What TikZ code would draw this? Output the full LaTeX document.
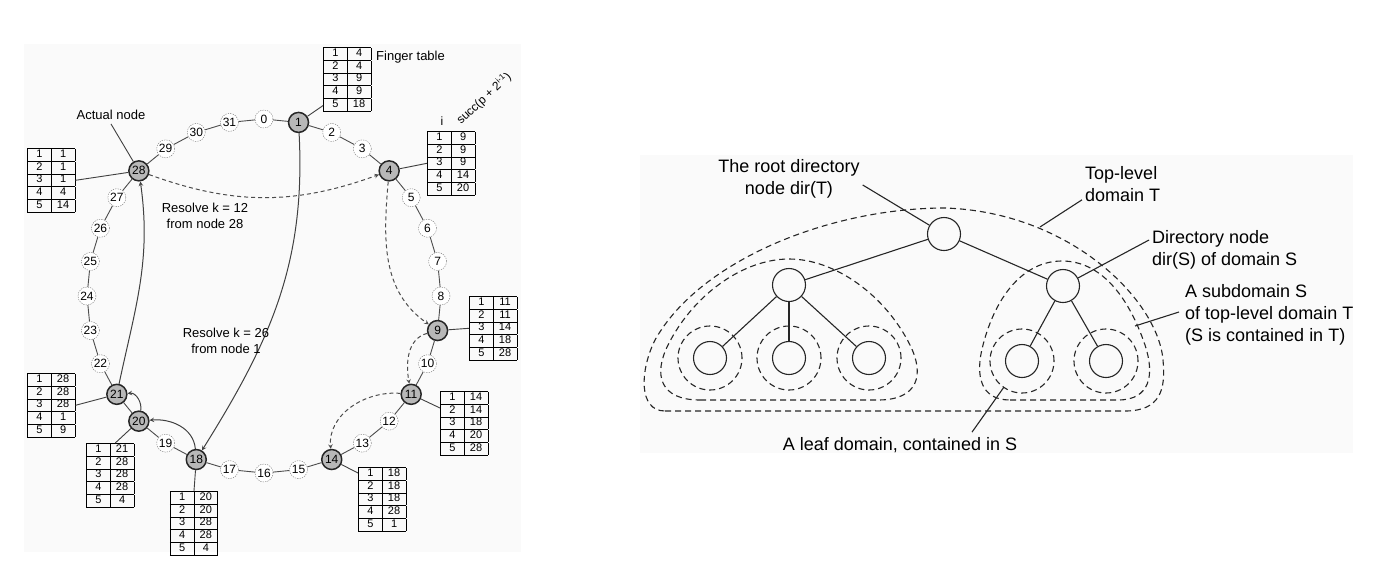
\documentclass[tikz,border=0pt]{standalone}
\usepackage{fontspec}
\setmainfont{Liberation Sans}
\usepackage{array}
\usetikzlibrary{arrows}
\tikzset{
>=stealth, % small filled arrow heads
peer/.style={circle, draw=black!85, line width=1.5pt, fill=black!28, minimum size=20pt, inner sep=0pt, font=\fontsize{12}{12}\selectfont}, % an actual node on the ring
slot/.style={circle, draw=black!55, dash pattern=on 1.3pt off 1.1pt, fill=white, minimum size=18pt, inner sep=0pt, font=\fontsize{12}{12}\selectfont}, % a free identifier
ring/.style={draw=black!70, line width=0.9pt}, % the ring itself
tabline/.style={draw=black!75, line width=0.9pt}, % node to finger table
ftab/.style={inner sep=0pt, font=\fontsize{11}{12}\selectfont}, % finger table
hop/.style={->, draw=black!70, line width=1pt, dash pattern=on 4pt off 3pt}, % lookup of k = 12
jump/.style={->, draw=black!75, line width=1pt}, % lookup of k = 26
note/.style={inner sep=0pt, font=\fontsize{13}{16}\selectfont, align=center},
dnode/.style={circle, draw=black!85, line width=1.1pt, minimum size=33pt, inner sep=0pt}, % directory node
leafdom/.style={circle, draw=black!85, line width=1.1pt, dash pattern=on 6pt off 4pt, minimum size=64pt, inner sep=0pt},
domline/.style={draw=black!85, line width=1.1pt, dash pattern=on 6pt off 4pt},
tree/.style={draw=black!85, line width=1.1pt},
lbl/.style={inner sep=0pt, font=\fontsize{18}{22}\selectfont},
}
\setlength{\arrayrulewidth}{0.7pt}
\newcommand{\ftable}[5]{%
  \setlength{\tabcolsep}{3pt}\renewcommand{\arraystretch}{1}%
  \begin{tabular}{|w{c}{17pt}|w{c}{17pt}|}\hline
  1 & #1\\\hline 2 & #2\\\hline 3 & #3\\\hline 4 & #4\\\hline 5 & #5\\\hline
  \end{tabular}}

\begin{document}
\begin{tikzpicture}[x=1pt, y=-1pt]
\useasboundingbox (0,0) rectangle (1382,574);
\fill[black!2] (24,44) rectangle (521,552);
\fill[black!2] (640,155) rectangle (1353,453);

% the ring
\foreach \k in {0,2,3,5,6,7,8,10,12,13,15,16,17,19,22,23,24,25,26,27,29,30,31}
  \node[slot] (n\k) at ({264+177*cos(90-11.25*\k)},{296-177*sin(90-11.25*\k)}) {\k};
\foreach \k in {1,4,9,11,14,18,20,21,28}
  \node[peer] (n\k) at ({264+177*cos(90-11.25*\k)},{296-177*sin(90-11.25*\k)}) {\k};
\foreach \k in {0,...,31} {
  \pgfmathtruncatemacro\j{mod(\k+1,32)}
  \draw[ring] (n\k) -- (n\j);
}

% finger tables
\node[ftab, anchor=north west] (t1) at (323,47) {\ftable{4}{4}{9}{9}{18}};
\node[ftab, anchor=north west] (t4) at (427,131) {\ftable{9}{9}{9}{14}{20}};
\node[ftab, anchor=north west] (t9) at (469,296) {\ftable{11}{11}{14}{18}{28}};
\node[ftab, anchor=north west] (t11) at (440,391) {\ftable{14}{14}{18}{20}{28}};
\node[ftab, anchor=north west] (t14) at (358,467) {\ftable{18}{18}{18}{28}{1}};
\node[ftab, anchor=north] (t18) at (194,491) {\ftable{20}{20}{28}{28}{4}};
\node[ftab, anchor=north west] (t20) at (86,443) {\ftable{21}{28}{28}{28}{4}};
\node[ftab, anchor=north west] (t21) at (27,373) {\ftable{28}{28}{28}{1}{9}};
\node[ftab, anchor=north west] (t28) at (27,148) {\ftable{1}{1}{1}{4}{14}};

\draw[tabline] (n1) -- ([yshift=6pt]t1.south west);
\draw[tabline] (n4) -- (t4.west);
\draw[tabline] (n9) -- (t9.west);
\draw[tabline] (n11) -- ([yshift=-17pt]t11.north west);
\draw[tabline] (n14) -- ([yshift=-6pt]t14.north west);
\draw[tabline] (n18) -- (t18.north);
\draw[tabline] (n20) -- ([xshift=5pt]t20.north);
\draw[tabline] (n21) -- (t21.east);
\draw[tabline] (n28) -- (t28.east);

\node[note, anchor=west] (ftlabel) at (376,57) {Finger table};
\node[note, font=\fontsize{12}{14}\selectfont] (ilabel) at (442,121) {i};
\node[note, font=\fontsize{12}{14}\selectfont, anchor=base west, rotate=43] (succlabel) at (461,125) {succ(p + 2\textsuperscript{i-1})};
\node[note] (actual) at (111,115) {Actual node};
\draw[tabline] ([yshift=-4pt]actual.south) -- (n28);

% lookups
\draw[hop] (n28) to[out=-20, in=200] (n4);
\draw[hop] (n4) to[out=-95, in=145] (n9);
\draw[hop] (n9) to[out=195, in=100] (n11);
\draw[hop] (n11) to[out=175, in=95] (n14);
\draw[jump] (n1) to[out=-87, in=58] (n18);
\draw[jump] (n21) to[out=78, in=-82] (n28);
\draw[jump] (n20) to[out=80, in=5] (n21);
\draw[jump] (n18) to[out=95, in=5] (n20);

\node[note] (k12) at (205,216) {Resolve k = 12\\from node 28};
\node[note] (k26) at (226,341) {Resolve k = 26\\from node 1};

% domains
\node[dnode] (root) at (944,234) {};
\node[dnode] (dirT) at (789,285) {};
\node[dnode] (dirS) at (1063,286) {};
\node[dnode] (l1) at (710,358) {};
\node[dnode] (l2) at (789,358) {};
\node[dnode] (l3) at (869,358) {};
\node[dnode] (r1) at (1022,361) {};
\node[dnode] (r2) at (1106,361) {};
\foreach \n in {l1,l2,l3,r1,r2}
  \node[leafdom] (d\n) at (\n) {};

\draw[tree] (root) -- (dirT);
\draw[tree] (root) -- (dirS);
\draw[tree] (dirT) -- (l1);
\draw[tree] (dirT) -- (l2);
\draw[tree] (dirT) -- (l3);
\draw[tree] (dirS) -- (r1);
\draw[tree] (dirS) -- (r2);

\draw[domline] (700,400) -- (878,400) .. controls (918,400) and (925,375) .. (910,345)
  .. controls (885,295) and (835,259) .. (789,259) .. controls (743,259) and (693,295) .. (668,345)
  .. controls (653,375) and (660,400) .. (700,400) -- cycle;
\draw[domline] (1010,400) -- (1118,400) .. controls (1150,400) and (1155,375) .. (1145,345)
  .. controls (1128,295) and (1100,261) .. (1062,261) .. controls (1024,261) and (996,295) .. (983,345)
  .. controls (975,375) and (980,400) .. (1010,400) -- cycle;
\draw[domline] (665,411) -- (1125,411) .. controls (1160,411) and (1166,390) .. (1163,360)
  .. controls (1158,300) and (1070,212) .. (945,208) .. controls (830,208) and (700,260) .. (655,340)
  .. controls (640,370) and (638,411) .. (665,411) -- cycle;

\coordinate (onT) at (1040,227);
\coordinate (onS) at (1135,326);
\coordinate (onleaf) at (1004,387);

\node[lbl, align=center] (rootlbl) at (789,179) {The root directory\\node dir(T)};
\node[lbl, align=left, anchor=west] (toplbl) at (1085,184) {Top-level\\domain T};
\node[lbl, align=left, anchor=west] (dirlbl) at (1152,250) {Directory node\\dir(S) of domain S};
\node[lbl, align=left, anchor=west] (sublbl) at (1185,315) {A subdomain S\\of top-level domain T\\(S is contained in T)};
\node[lbl] (leaflbl) at (900,445) {A leaf domain, contained in S};

\draw[tree] ([xshift=3pt, yshift=-6pt]rootlbl.east) -- (root);
\draw[tree] ([xshift=-3pt, yshift=2pt]toplbl.south west) -- (onT);
\draw[tree] ([xshift=-3pt, yshift=10pt]dirlbl.west) -- (dirS);
\draw[tree] ([xshift=-6pt, yshift=3pt]sublbl.west) -- (onS);
\draw[tree] ([xshift=72pt, yshift=5pt]leaflbl.north) -- (onleaf);
\end{tikzpicture}
\end{document}
